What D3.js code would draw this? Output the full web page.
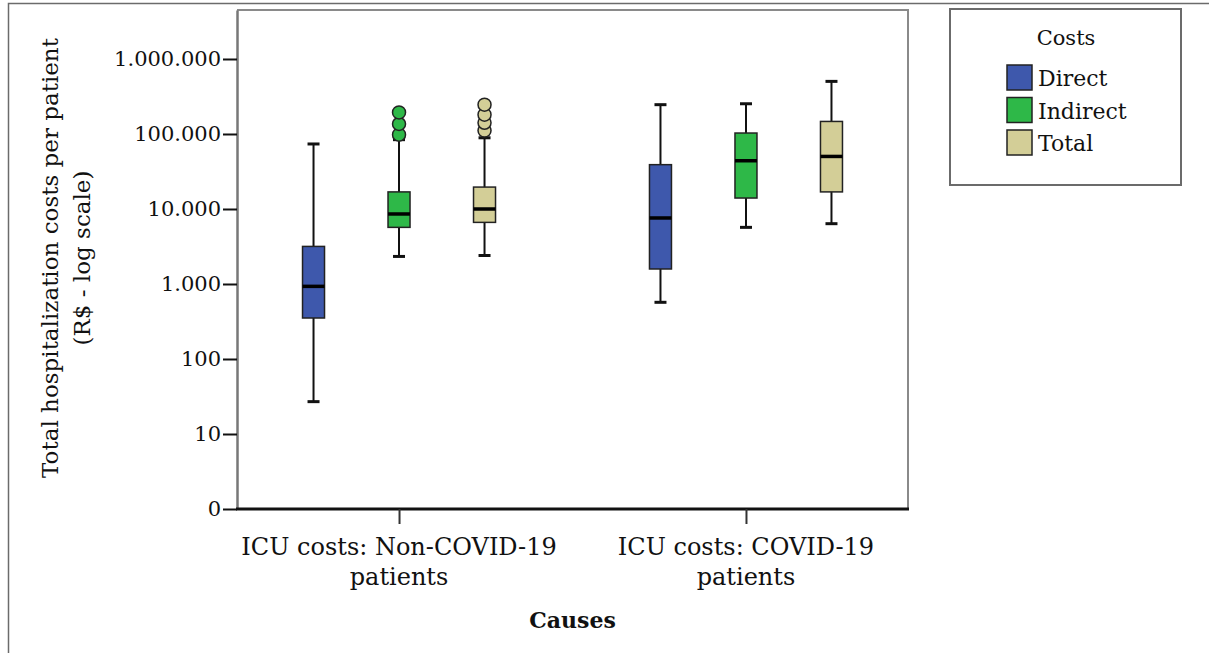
<!DOCTYPE html>
<html>
<head>
<meta charset="utf-8">
<script src="https://cdn.jsdelivr.net/npm/d3@7"></script>
<style>
  body { margin: 0; background: #fff; }
  text { font-family: "DejaVu Serif", serif; fill: #111; }
</style>
</head>
<body>
<div id="chart"></div>
<script>
var width = 1209;
var height = 653;

// the data
var causes = ["ICU costs: Non-COVID-19 patients", "ICU costs: COVID-19 patients"];
var causeLines = [["ICU costs: Non-COVID-19", "patients"], ["ICU costs: COVID-19", "patients"]];
var costTypes = ["Direct", "Indirect", "Total"];
var costColors = ["#3e58ac", "#2eb848", "#d3ce97"];

// [cause][costType]
var whiskerLow  = [[27, 2330, 2400], [570, 5690, 6370]];
var q1          = [[352, 5690, 6630], [1585, 14000, 16900]];
var median      = [[930, 8580, 10000], [7590, 44000, 50200]];
var q3          = [[3170, 16900, 19600], [39000, 103000, 147000]];
var whiskerHigh = [[73600, 84000, 89000], [246000, 253000, 503000]];
var outliers    = [[[], [98000, 136000, 194000], [111000, 141000, 181000, 246000]], [[], [], []]];

var yTicks = [1, 10, 100, 1000, 10000, 100000, 1000000];

var plot = {left: 237, right: 908, top: 10, bottom: 509};

var svg = d3.select("#chart")
    .append("svg")
    .attr("width", width)
    .attr("height", height);

// outer frame
svg.append("rect")
    .attr("x", 8.5).attr("y", 3.5)
    .attr("width", width + 10).attr("height", height + 10)
    .attr("fill", "none")
    .attr("stroke", "#6b6b6b")
    .attr("stroke-width", 1.5);

var y = d3.scaleLog().domain([1, 4.5e6]).range([plot.bottom, plot.top]);
var x = d3.scalePoint().domain(causes).range([plot.left, plot.right]).padding(0.467);
var xInner = d3.scalePoint().domain(costTypes).range([-85.5, 85.5]);
var color = d3.scaleOrdinal().domain(costTypes).range(costColors);

var locale = d3.formatLocale({decimal: ",", thousands: ".", grouping: [3], currency: ["", ""]});
var fmt = locale.format(",");

// plot frame (top and right in grey)
svg.append("path")
    .attr("d", "M" + plot.left + "," + plot.top + "H" + plot.right + "V" + plot.bottom)
    .attr("fill", "none")
    .attr("stroke", "#8a8a8a")
    .attr("stroke-width", 2);

// y axis
var yAxis = svg.append("g")
    .attr("transform", "translate(" + plot.left + ",0)")
    .call(d3.axisLeft(y).tickValues(yTicks).tickSize(14).tickSizeOuter(0).tickPadding(2)
        .tickFormat(function(d){ return d === 1 ? "0" : fmt(d); }));
yAxis.select(".domain").attr("stroke", "#777").attr("stroke-width", 2.5);
yAxis.selectAll(".tick line").attr("stroke", "#111").attr("stroke-width", 2);
yAxis.selectAll(".tick text").attr("font-size", "21px").attr("fill", "#111")
    .attr("font-family", "DejaVu Serif");

// x axis
var xAxis = svg.append("g")
    .attr("transform", "translate(0," + plot.bottom + ")")
    .call(d3.axisBottom(x).tickSize(15).tickSizeOuter(0).tickFormat(""));
xAxis.select(".domain").attr("stroke", "#111").attr("stroke-width", 3)
    .attr("d", "M" + (plot.left - 1) + ",0H" + (plot.right + 1));
xAxis.selectAll(".tick line").attr("stroke", "#333").attr("stroke-width", 2);

// x tick labels (two lines)
causes.forEach(function(c, i){
    var t = svg.append("text")
        .attr("text-anchor", "middle")
        .attr("font-size", "24px")
        .attr("x", x(c))
        .attr("y", 555);
    causeLines[i].forEach(function(line, k){
        t.append("tspan").attr("x", x(c)).attr("dy", k === 0 ? 0 : 30).text(line);
    });
});

// axis titles
svg.append("text")
    .attr("x", (plot.left + plot.right) / 2)
    .attr("y", 628)
    .attr("text-anchor", "middle")
    .attr("font-size", "22px")
    .attr("font-weight", "bold")
    .text("Causes");

var yTitle = svg.append("text")
    .attr("transform", "translate(58," + 258 + ") rotate(-90)")
    .attr("text-anchor", "middle")
    .attr("font-size", "23px");
yTitle.append("tspan").attr("x", 0).attr("dy", 0).text("Total hospitalization costs per patient");
yTitle.append("tspan").attr("x", 0).attr("dy", 32).text("(R$ - log scale)");

// build one record per box
var boxes = [];
causes.forEach(function(c, i){
    costTypes.forEach(function(t, j){
        boxes.push({
            cause: c, type: t,
            lo: whiskerLow[i][j], q1: q1[i][j], med: median[i][j],
            q3: q3[i][j], hi: whiskerHigh[i][j], out: outliers[i][j]
        });
    });
});

var boxW = 22;
var capW = 12;

var g = svg.selectAll(".box")
    .data(boxes)
    .enter()
    .append("g")
    .attr("class", "box")
    .attr("transform", function(d){ return "translate(" + (x(d.cause) + xInner(d.type)) + ",0)"; });

// whiskers
g.append("line")
    .attr("x1", 0).attr("x2", 0)
    .attr("y1", function(d){ return y(d.hi); })
    .attr("y2", function(d){ return y(d.lo); })
    .attr("stroke", "#111").attr("stroke-width", 2);
g.append("line")
    .attr("x1", -capW / 2).attr("x2", capW / 2)
    .attr("y1", function(d){ return y(d.hi); })
    .attr("y2", function(d){ return y(d.hi); })
    .attr("stroke", "#111").attr("stroke-width", 3);
g.append("line")
    .attr("x1", -capW / 2).attr("x2", capW / 2)
    .attr("y1", function(d){ return y(d.lo); })
    .attr("y2", function(d){ return y(d.lo); })
    .attr("stroke", "#111").attr("stroke-width", 3);

// boxes
g.append("rect")
    .attr("x", -boxW / 2)
    .attr("width", boxW)
    .attr("y", function(d){ return y(d.q3); })
    .attr("height", function(d){ return y(d.q1) - y(d.q3); })
    .attr("fill", function(d){ return color(d.type); })
    .attr("stroke", "#222").attr("stroke-width", 1.5);

// medians
g.append("line")
    .attr("x1", -boxW / 2).attr("x2", boxW / 2)
    .attr("y1", function(d){ return y(d.med); })
    .attr("y2", function(d){ return y(d.med); })
    .attr("stroke", "#000").attr("stroke-width", 3.5);

// outliers
g.selectAll(".outlier")
    .data(function(d){ return d.out.map(function(v){ return {v: v, type: d.type}; }); })
    .enter()
    .append("circle")
    .attr("class", "outlier")
    .attr("cx", 0)
    .attr("cy", function(d){ return y(d.v); })
    .attr("r", 6.5)
    .attr("fill", function(d){ return color(d.type); })
    .attr("stroke", "#222").attr("stroke-width", 1.5);

// legend
var legend = svg.append("g").attr("transform", "translate(950,9)");
legend.append("rect")
    .attr("width", 231).attr("height", 176)
    .attr("fill", "#fff")
    .attr("stroke", "#6b6b6b").attr("stroke-width", 2);
legend.append("text")
    .attr("x", 116).attr("y", 36)
    .attr("text-anchor", "middle")
    .attr("font-size", "21px")
    .text("Costs");
var items = legend.selectAll(".item")
    .data(costTypes)
    .enter()
    .append("g")
    .attr("class", "item")
    .attr("transform", function(d, i){ return "translate(57," + (56 + i * 32.5) + ")"; });
items.append("rect")
    .attr("width", 25).attr("height", 25)
    .attr("fill", function(d){ return color(d); })
    .attr("stroke", "#222").attr("stroke-width", 1.5);
items.append("text")
    .attr("x", 31).attr("y", 21)
    .attr("font-size", "22px")
    .text(function(d){ return d; });
</script>
</body>
</html>
